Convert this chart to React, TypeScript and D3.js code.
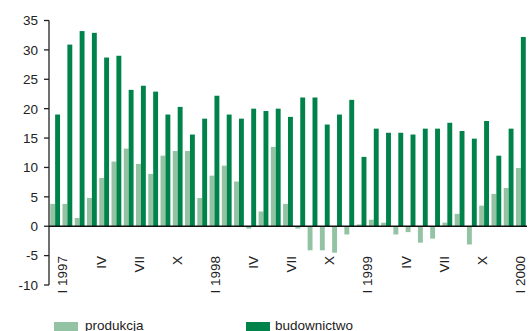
import * as d3 from "d3";
import React from "react";

// months XII 1996 .. II 2000
const months = [
  "1996-12",
  "1997-01", "1997-02", "1997-03", "1997-04", "1997-05", "1997-06",
  "1997-07", "1997-08", "1997-09", "1997-10", "1997-11", "1997-12",
  "1998-01", "1998-02", "1998-03", "1998-04", "1998-05", "1998-06",
  "1998-07", "1998-08", "1998-09", "1998-10", "1998-11", "1998-12",
  "1999-01", "1999-02", "1999-03", "1999-04", "1999-05", "1999-06",
  "1999-07", "1999-08", "1999-09", "1999-10", "1999-11", "1999-12",
  "2000-01", "2000-02",
];

const produkcja = [
  3.8, 3.8, 1.4, 4.8, 8.2, 11.0, 13.2, 10.6, 8.9, 12.0, 12.8, 12.8, 4.8,
  8.6, 10.3, 7.6, -0.4, 2.5, 13.5, 3.8, -0.4, -4.1, -4.1, -4.5, -1.4, 0.3,
  1.1, 0.6, -1.4, -1.0, -2.8, -2.1, 0.6, 2.1, -3.1, 3.5, 5.5, 6.5, 9.9,
];

const budownictwo = [
  19.0, 30.9, 33.2, 32.9, 28.7, 29.0, 23.2, 23.9, 22.9, 19.0, 20.3, 15.6, 18.3,
  22.2, 19.0, 18.3, 20.0, 19.6, 20.0, 18.6, 21.9, 21.9, 17.3, 19.0, 21.5, 11.8,
  16.6, 15.9, 15.9, 15.6, 16.6, 16.6, 17.6, 16.2, 14.9, 17.9, 12.0, 16.6, 32.2,
];

const xLabels = ["I 1997", "IV", "VII", "X", "I 1998", "IV", "VII", "X", "I 1999", "IV", "VII", "X", "I 2000"];
const yTicks = [-10, -5, 0, 5, 10, 15, 20, 25, 30, 35];

const width = 529;
const height = 331;
const font = "'Liberation Sans', Arial, sans-serif";
const lightColor = "#93c3a3";
const darkColor = "#00834b";

export default function App() {
  const left = 49;
  const right = 527;

  const x = d3.scaleBand<string>()
    .domain(months)
    .range([left, right])
    .paddingInner(0.2)
    .paddingOuter(0.1);

  const y = d3.scaleLinear().domain([-10, 35]).range([285, 20.5]);

  // axis labels sit on their own spacing
  const xl = d3.scalePoint<number>()
    .domain(xLabels.map((_, i) => i))
    .range([62.5, 520]);

  const half = x.bandwidth() / 2;

  return (
    <svg width={width} height={height} style={{ position: "absolute", left: 0, top: 0 }} fontFamily={font}>
      <rect width={width} height={height} fill="#fff" />

      {/* bars */}
      {months.map((m, i) => {
        const p = produkcja[i];
        const b = budownictwo[i];
        const x0 = x(m)!;
        return (
          <g key={m}>
            <rect x={x0} y={y(Math.max(0, p))} width={half} height={Math.abs(y(p) - y(0))} fill={lightColor} />
            <rect x={x0 + half} y={y(Math.max(0, b))} width={half} height={Math.abs(y(b) - y(0))} fill={darkColor} />
          </g>
        );
      })}

      {/* y axis */}
      <line x1={left} x2={left} y1={y(35)} y2={y(-10)} stroke="#222" strokeWidth={1.3} />
      {yTicks.map((t) => (
        <g key={t}>
          <line x1={left - 5} x2={left} y1={y(t)} y2={y(t)} stroke="#222" strokeWidth={1.3} />
          <text x={38} y={y(t)} dy="0.36em" textAnchor="end" fontSize={13.5} fill="#222">
            {t}
          </text>
        </g>
      ))}

      {/* zero line */}
      <line x1={left} x2={right} y1={y(0)} y2={y(0)} stroke="#111" strokeWidth={1.5} />

      {/* x labels */}
      {xLabels.map((l, i) => (
        <text
          key={i}
          transform={`translate(${xl(i)},256) rotate(-90)`}
          dy="0.36em"
          textAnchor="end"
          fontSize={13.5}
          fill="#222"
        >
          {l}
        </text>
      ))}

      {/* legend */}
      <rect x={54} y={322} width={24} height={10} fill={lightColor} />
      <text x={85} y={329.5} fontSize={13.5} fill="#222">produkcja</text>
      <rect x={246} y={322} width={24} height={10} fill={darkColor} />
      <text x={275} y={329.5} fontSize={13.5} fill="#222">budownictwo</text>
    </svg>
  );
}
